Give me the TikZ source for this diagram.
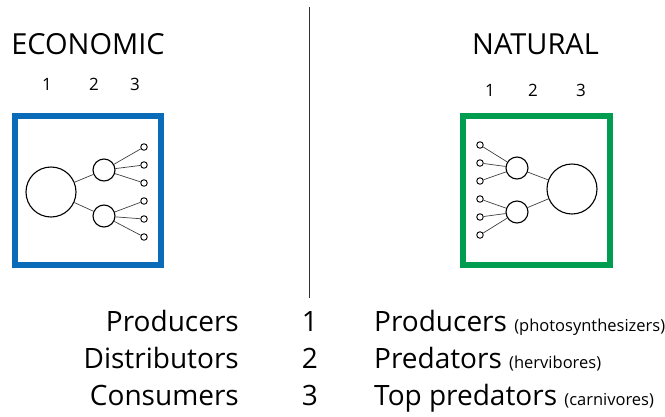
\documentclass[tikz,border=0pt]{standalone}
\usepackage{fontspec}
\setmainfont{Open Sans}
\definecolor{econblue}{RGB}{10,107,184}
\definecolor{natgreen}{RGB}{0,157,80}
\newcommand\smallnote{\fontsize{16.5}{19}\selectfont}
\begin{document}
\begin{tikzpicture}[x=1pt,y=-1pt,
  title/.style={anchor=base,inner sep=0pt,font=\fontsize{29}{34}\selectfont},
  colnum/.style={anchor=base,inner sep=0pt,font=\fontsize{17}{20}\selectfont},
  frame/.style={draw,line width=6pt,inner sep=0pt,minimum width=#1},
  bigc/.style={draw,circle,line width=1.1pt,inner sep=0pt,minimum size=50pt},
  midc/.style={draw,circle,line width=1.1pt,inner sep=0pt,minimum size=22pt},
  smallc/.style={draw,circle,line width=0.9pt,inner sep=0pt,minimum size=6.5pt},
  link/.style={draw,line width=0.7pt,black!75},
  big/.style={anchor=base,inner sep=0pt,font=\fontsize{28}{33}\selectfont}
]
\useasboundingbox (0,0) rectangle (665,416);

% divider
\coordinate (dtop) at (309,7);
\coordinate (dbot) at (309,298);
\draw[line width=1pt,black!80] (dtop) -- (dbot);

% ---------------- ECONOMIC ----------------
\node[title] (econ) at (88,54) {ECONOMIC};
\node[colnum] (e1) at (47,90) {1};
\node[colnum] (e2) at (94,90) {2};
\node[colnum] (e3) at (135,90) {3};
\node[frame=146pt,minimum height=149pt,draw=econblue] (ebox) at (88,190.5) {};

\node[bigc] (eb) at (51,192) {};
\node[midc] (em1) at (104,170) {};
\node[midc] (em2) at (104,216) {};
\node[smallc] (es1) at (144,147) {};
\node[smallc] (es2) at (144,165) {};
\node[smallc] (es3) at (144,183) {};
\node[smallc] (es4) at (144,201) {};
\node[smallc] (es5) at (144,219) {};
\node[smallc] (es6) at (144,237) {};
\draw[link] (eb) -- (em1);
\draw[link] (eb) -- (em2);
\draw[link] (em1) -- (es1);
\draw[link] (em1) -- (es2);
\draw[link] (em1) -- (es3);
\draw[link] (em2) -- (es4);
\draw[link] (em2) -- (es5);
\draw[link] (em2) -- (es6);

% ---------------- NATURAL ----------------
\node[title] (nat) at (535.5,54) {NATURAL};
\node[colnum] (n1) at (490,96) {1};
\node[colnum] (n2) at (533,96) {2};
\node[colnum] (n3) at (581,96) {3};
\node[frame=147pt,minimum height=149pt,draw=natgreen] (nbox) at (536.5,190.5) {};

\node[bigc] (nb) at (572,189) {};
\node[midc] (nm1) at (517,168) {};
\node[midc] (nm2) at (517,212) {};
\node[smallc] (ns1) at (480,145) {};
\node[smallc] (ns2) at (480,163) {};
\node[smallc] (ns3) at (480,181) {};
\node[smallc] (ns4) at (480,199) {};
\node[smallc] (ns5) at (480,217) {};
\node[smallc] (ns6) at (480,235) {};
\draw[link] (nb) -- (nm1);
\draw[link] (nb) -- (nm2);
\draw[link] (nm1) -- (ns1);
\draw[link] (nm1) -- (ns2);
\draw[link] (nm1) -- (ns3);
\draw[link] (nm2) -- (ns4);
\draw[link] (nm2) -- (ns5);
\draw[link] (nm2) -- (ns6);

% ---------------- legend ----------------
\node[big,anchor=base east] (lp) at (239,331) {Producers};
\node[big,anchor=base east] (ld) at (239,368) {Distributors};
\node[big,anchor=base east] (lc) at (239,405) {Consumers};
\node[big] (k1) at (310,331) {1};
\node[big] (k2) at (310,368) {2};
\node[big] (k3) at (310,405) {3};
\node[big,anchor=base west] (rp) at (374,331) {Producers {\smallnote(photosynthesizers)}};
\node[big,anchor=base west] (rd) at (374,368) {Predators {\smallnote(hervibores)}};
\node[big,anchor=base west] (rt) at (374,405) {Top predators {\smallnote(carnivores)}};
\end{tikzpicture}
\end{document}
